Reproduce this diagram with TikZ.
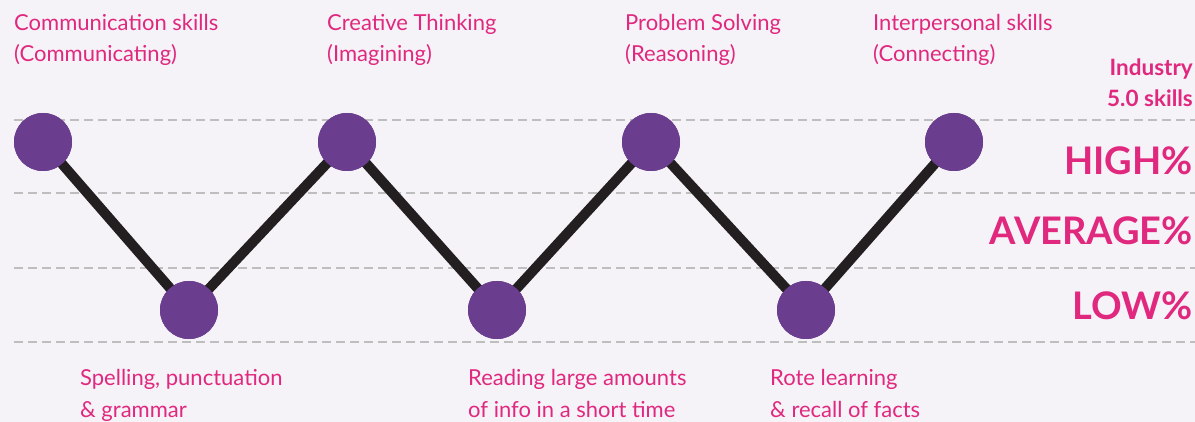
\documentclass[tikz,border=0pt]{standalone}
\usepackage{fontspec}
\setmainfont{Lato}
\definecolor{bgc}{HTML}{F5F3F7}
\definecolor{pinkc}{HTML}{E0287F}
\definecolor{purplec}{HTML}{6A3D8E}
\definecolor{linec}{HTML}{231F20}
\definecolor{dashc}{HTML}{BEBEBE}
\tikzset{
  dot/.style={circle, fill=purplec, minimum size=58pt, inner sep=0pt},
  zig/.style={draw=linec, line width=10pt},
  guide/.style={draw=dashc, line width=2pt, dash pattern=on 9pt off 5pt},
  lab/.style={text=pinkc, font=\fontsize{22}{31.5}\selectfont, align=left, anchor=base west, inner sep=0pt},
  lvl/.style={text=pinkc, font=\fontsize{38}{40}\selectfont\bfseries, anchor=east, inner sep=0pt},
  hdr/.style={text=pinkc, font=\fontsize{22.5}{31}\selectfont\bfseries, align=right, anchor=base east, inner sep=0pt}
}
\begin{document}
\begin{tikzpicture}[x=1pt,y=-1pt]
\fill[bgc] (0,0) rectangle (1195,422);
\useasboundingbox (0,0) rectangle (1195,422);
% guide lines
\foreach \yy in {120,193,268,342}{
  \draw[guide] (14,\yy) -- (1195,\yy);
}
% circles
\node[dot] (c1) at (43,142) {};
\node[dot] (c2) at (189,310) {};
\node[dot] (c3) at (347,142) {};
\node[dot] (c4) at (497,310) {};
\node[dot] (c5) at (651,142) {};
\node[dot] (c6) at (806,310) {};
\node[dot] (c7) at (954,142) {};
% connectors, then circles repainted on top
\draw[zig] (c1.center) -- (c2.center) -- (c3.center) -- (c4.center) -- (c5.center) -- (c6.center) -- (c7.center);
\foreach \n in {c1,c2,c3,c4,c5,c6,c7}{
  \fill[purplec] (\n.center) circle (29pt);
}
% top labels
\node[lab] (t1) at (14,62) {Communication skills\\(Communicating)};
\node[lab] (t2) at (327,62) {Creative Thinking\\(Imagining)};
\node[lab] (t3) at (625,62) {Problem Solving\\(Reasoning)};
\node[lab] (t4) at (873,62) {Interpersonal skills\\(Connecting)};
% bottom labels
\node[lab] (b1) at (80,417) {Spelling, punctuation\\\& grammar};
\node[lab] (b2) at (468,417) {Reading large amounts\\of info in a short time};
\node[lab] (b3) at (770,417) {Rote learning\\\& recall of facts};
% right side
\node[hdr] (h) at (1193,107) {Industry\\5.0 skills};
\node[lvl] (hi) at (1193,160.5) {HIGH\%};
\node[lvl] (av) at (1193,231) {AVERAGE\%};
\node[lvl] (lo) at (1193,305.5) {LOW\%};
\end{tikzpicture}
\end{document}
